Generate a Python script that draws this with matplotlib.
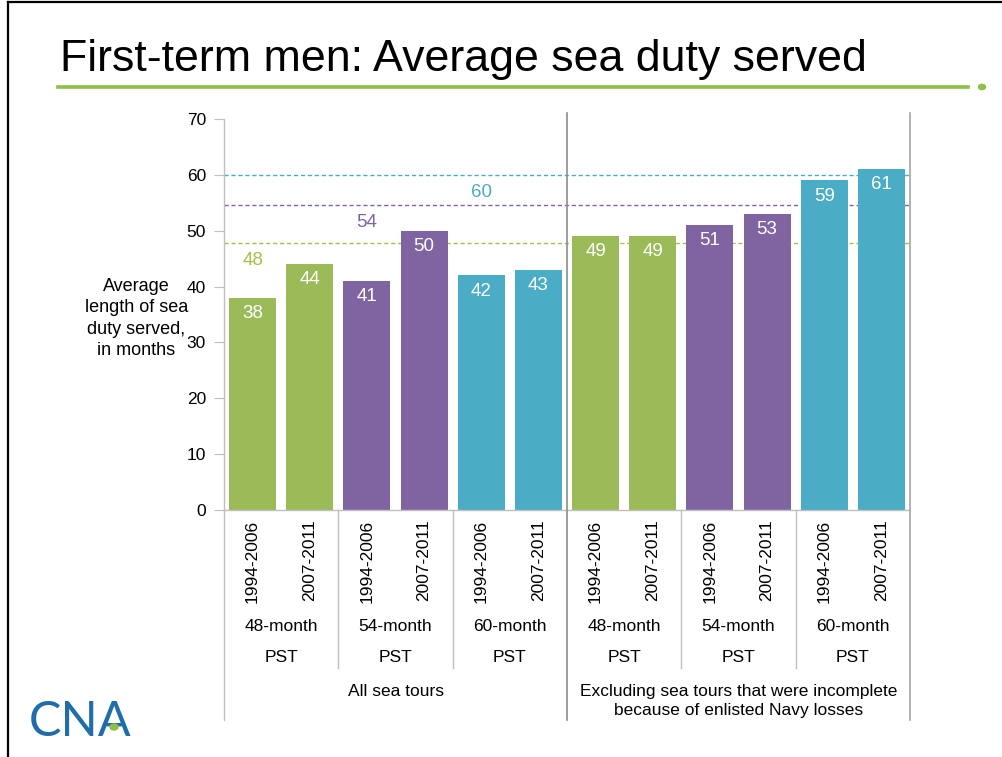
import numpy as np
import matplotlib
matplotlib.use("Agg")
import matplotlib.pyplot as plt
from matplotlib.lines import Line2D
from matplotlib.patches import Circle

plt.rcParams['font.family'] = ['Liberation Sans', 'DejaVu Sans']

# ---- data ----
periods = ["1994-2006", "2007-2011"] * 6
pst_groups = ["48-month", "54-month", "60-month"] * 2
tour_groups = ["All sea tours",
               "Excluding sea tours that were incomplete\nbecause of enlisted Navy losses"]
values = [38, 44, 41, 50, 42, 43, 49, 49, 51, 53, 59, 61]
ref_values = [47.8, 54.6, 60.0]        # dashed reference lines as drawn
ref_labels = ["48", "54", "60"]
yticks = [0, 10, 20, 30, 40, 50, 60, 70]

GREEN, PURPLE, TEAL = "#9BBB59", "#8064A2", "#4BACC6"
series_colors = [GREEN, GREEN, PURPLE, PURPLE, TEAL, TEAL] * 2
ref_colors = ["#A5C04A", PURPLE, TEAL]

W, H = 1003, 757
fig = plt.figure(figsize=(W / 100, H / 100), dpi=100)
fig.patch.set_facecolor("white")

# slide frame (top & left edges)
fig.add_artist(Line2D([8 / W, 8 / W], [0, 1 - 2 / H], color="black", lw=1.6))
fig.add_artist(Line2D([8 / W, 1], [1 - 2 / H, 1 - 2 / H], color="black", lw=1.6))

# title + green rule + dot
fig.text(60 / W, 1 - 60 / H, "First-term men: Average sea duty served",
         fontsize=32.2, ha="left", va="center", color="black",
         family=["Liberation Sans Narrow", "Liberation Sans", "DejaVu Sans"])
fig.add_artist(Line2D([58 / W, 968 / W], [1 - 87 / H, 1 - 87 / H], color="#8DC044", lw=2.6))
fig.add_artist(Circle((982 / W, 1 - 87 / H), 3.5 / W, transform=fig.transFigure,
                      color="#8DC044"))

# logo
fig.text(29 / W, 1 - 722 / H, "CNA", fontsize=35, color="#1F6EA9", ha="left", va="center",
         family=["Lato", "Liberation Sans"])
fig.add_artist(Circle((114 / W, 1 - 727 / H), 4 / W, transform=fig.transFigure,
                      color="#8DC044", zorder=5))

# ---- axes ----
ax = fig.add_axes([224 / W, 1 - 510 / H, (910 - 224) / W, (510 - 119) / H])
x = np.arange(len(values))
bars = ax.bar(x, values, width=0.82, color=series_colors, zorder=2)
ax.set_xlim(-0.5, len(values) - 0.5)
ax.set_ylim(0, 70)
ax.set_yticks(yticks)
ax.tick_params(axis="y", length=7, color="#BFBFBF", labelsize=12.5, pad=6)
ax.set_xticks(x, periods, rotation=90)
ax.tick_params(axis="x", length=0, labelsize=12.5, pad=7)
for s in ["top", "right"]:
    ax.spines[s].set_visible(False)
for s in ["left", "bottom"]:
    ax.spines[s].set_color("#BFBFBF")
    ax.spines[s].set_linewidth(1)

# data labels
for xi, v in zip(x, values):
    ax.text(xi, v - 2.8, str(v), color="white", fontsize=13.5, ha="center", va="center", zorder=3)

# reference lines
for rv, rl, rc, xi in zip(ref_values, ref_labels, ref_colors, [0, 2, 4]):
    ax.axhline(rv, color=rc, lw=1, ls=(0, (3, 2)), zorder=1)
    ax.text(xi, rv - 3.2, rl, color=rc, fontsize=13.5, ha="center", va="center")

# y label
ax.text(-0.128, 0.49, "Average\nlength of sea\nduty served,\nin months", transform=ax.transAxes,
        ha="center", va="center", multialignment="center", fontsize=13, linespacing=1.35)

# separators & group labels
tx = ax.get_xaxis_transform()
n_pairs = len(values) // 2
for k in range(1, n_pairs):
    xb = 2 * k - 0.5
    if k == n_pairs // 2:
        continue
    ax.plot([xb, xb], [0, -0.405], transform=tx, color="#BFBFBF", lw=1, clip_on=False)
mid = len(values) / 2 - 0.5
ax.plot([mid, mid], [1.016, -0.537], transform=tx, color="#8C8C8C", lw=1.2, clip_on=False, zorder=4)
ax.plot([len(values) - 0.5] * 2, [1.016, -0.537], transform=tx, color="#A6A6A6", lw=1.2,
        clip_on=False, zorder=4)
ax.plot([-0.5, -0.5], [0, -0.537], transform=tx, color="#BFBFBF", lw=1, clip_on=False)

for k, g in enumerate(pst_groups):
    ax.text(2 * k + 0.5, -0.299, g, transform=tx, ha="center", va="center", fontsize=12.5)
    ax.text(2 * k + 0.5, -0.376, "PST", transform=tx, ha="center", va="center", fontsize=12.5)
for k, g in enumerate(tour_groups):
    cx = k * len(values) / 2 + len(values) / 4 - 0.5
    ax.text(cx, -0.445, g, transform=tx, ha="center", va="top", fontsize=12.5, linespacing=1.35)

fig.savefig("out.png", dpi=100)
